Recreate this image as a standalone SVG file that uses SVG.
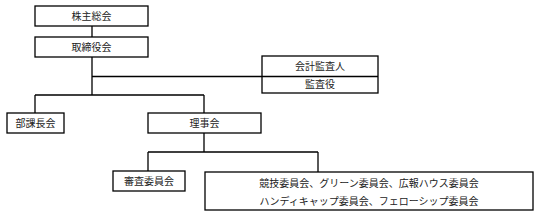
<svg xmlns="http://www.w3.org/2000/svg" width="536" height="216" viewBox="0 0 536 216">
<style>
.b{fill:#fff;stroke:#000;stroke-width:1.3}
.l{fill:none;stroke:#000;stroke-width:1.3}
text{font-family:"Noto Sans CJK JP","Noto Sans CJK SC",sans-serif;font-size:10px;fill:#222;text-anchor:middle}
</style>
<rect width="536" height="216" fill="#fff"/>
<g id="connectors">
<path class="l" d="M92 26V37M92 57V95M92 76.5H262M35 95H204M35 95V113M204 95V113M204 133V152M148 152H318M148 152V171M318 152V172"/>
</g>
<g id="kabunushi"><rect class="b" x="35" y="6" width="113" height="20"/><text x="91.5" y="20">株主総会</text></g>
<g id="torishimariyaku"><rect class="b" x="35" y="37" width="113" height="20"/><text x="91.5" y="51">取締役会</text></g>
<g id="kansa"><rect class="b" x="262" y="56" width="116" height="37"/><line class="l" x1="262" y1="76.5" x2="378" y2="76.5"/><text x="320" y="70">会計監査人</text><text x="320" y="88">監査役</text></g>
<g id="bukachou"><rect class="b" x="7" y="113" width="57" height="20"/><text x="35.5" y="127">部課長会</text></g>
<g id="rijikai"><rect class="b" x="148" y="113" width="113" height="20"/><text x="204.5" y="127">理事会</text></g>
<g id="shinsa"><rect class="b" x="113" y="171" width="72" height="20"/><text x="149" y="185">審査委員会</text></g>
<g id="iinkai"><rect class="b" x="205" y="172" width="328" height="38"/><text x="369" y="186.5">競技委員会、グリーン委員会、広報ハウス委員会</text><text x="369" y="205">ハンディキャップ委員会、フェローシップ委員会</text></g>
</svg>
